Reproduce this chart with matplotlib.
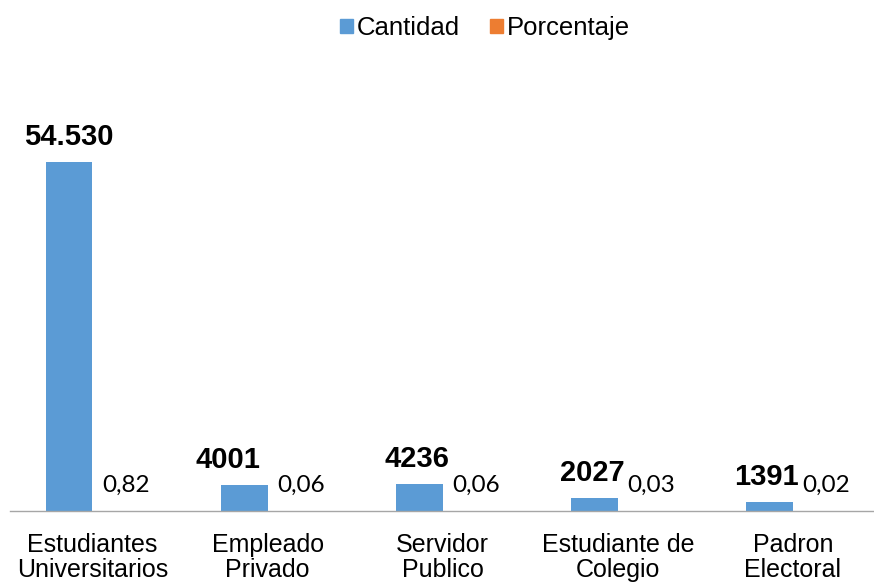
import matplotlib.pyplot as plt
import numpy as np
from matplotlib.patches import Patch

# datos
categorias = ['Estudiantes\nUniversitarios', 'Empleado\nPrivado', 'Servidor\nPublico',
              'Estudiante de\nColegio', 'Padron\nElectoral']
cantidad = [54530, 4001, 4236, 2027, 1391]
cantidad_txt = ['54.530', '4001', '4236', '2027', '1391']
porcentaje = [0.82, 0.06, 0.06, 0.03, 0.02]

azul = '#5B9BD5'
naranja = '#ED7D31'

fig = plt.figure(figsize=(8.74, 5.84), dpi=100)
ax = fig.add_axes((10 / 874, 73 / 584, 864 / 874, 384 / 584))

x = np.arange(len(categorias))
w = 0.268
ax.bar(x - w / 2, cantidad, width=w, color=azul)
ax.bar(x + w / 2, porcentaje, width=w, color=naranja)

ax.set_xlim(-0.471, 4.463)
ax.set_ylim(0, 60000)

# etiquetas de datos
dx_cant = [0, -11.5, -1.5, -1.5, -2.5]
for i, (v, t) in enumerate(zip(cantidad, cantidad_txt)):
    ax.annotate(t, (x[i] - w / 2, v), xytext=(dx_cant[i], 12.5), textcoords='offset points',
                ha='center', va='baseline', fontsize=21, fontweight='bold',
                family='Liberation Sans')
for i, v in enumerate(porcentaje):
    ax.annotate(f'{v:.2f}'.replace('.', ','), (x[i] + w / 2, v), xytext=(7, 13.7),
                textcoords='offset points', ha='center', va='baseline',
                fontsize=17.5, family='Lato')

# ejes
for s in ['top', 'right', 'left']:
    ax.spines[s].set_visible(False)
ax.spines['bottom'].set_color('#A6A6A6')
ax.spines['bottom'].set_linewidth(1.0)
ax.set_yticks([])
ax.set_xticks(x)
ax.set_xticklabels(categorias, fontsize=18, family='Liberation Sans', linespacing=1.02)
ax.tick_params(axis='x', length=0, pad=16)

# leyenda
handles = [Patch(color=azul, label='Cantidad'), Patch(color=naranja, label='Porcentaje')]
fig.legend(handles=handles, loc='center', bbox_to_anchor=(485 / 874, 0.952), ncol=2,
           frameon=False, prop={'family': 'Liberation Sans', 'size': 18.5},
           handlelength=0.5, handleheight=0.5, handletextpad=0.15, columnspacing=1.2)

fig.savefig('out.png', dpi=100)
